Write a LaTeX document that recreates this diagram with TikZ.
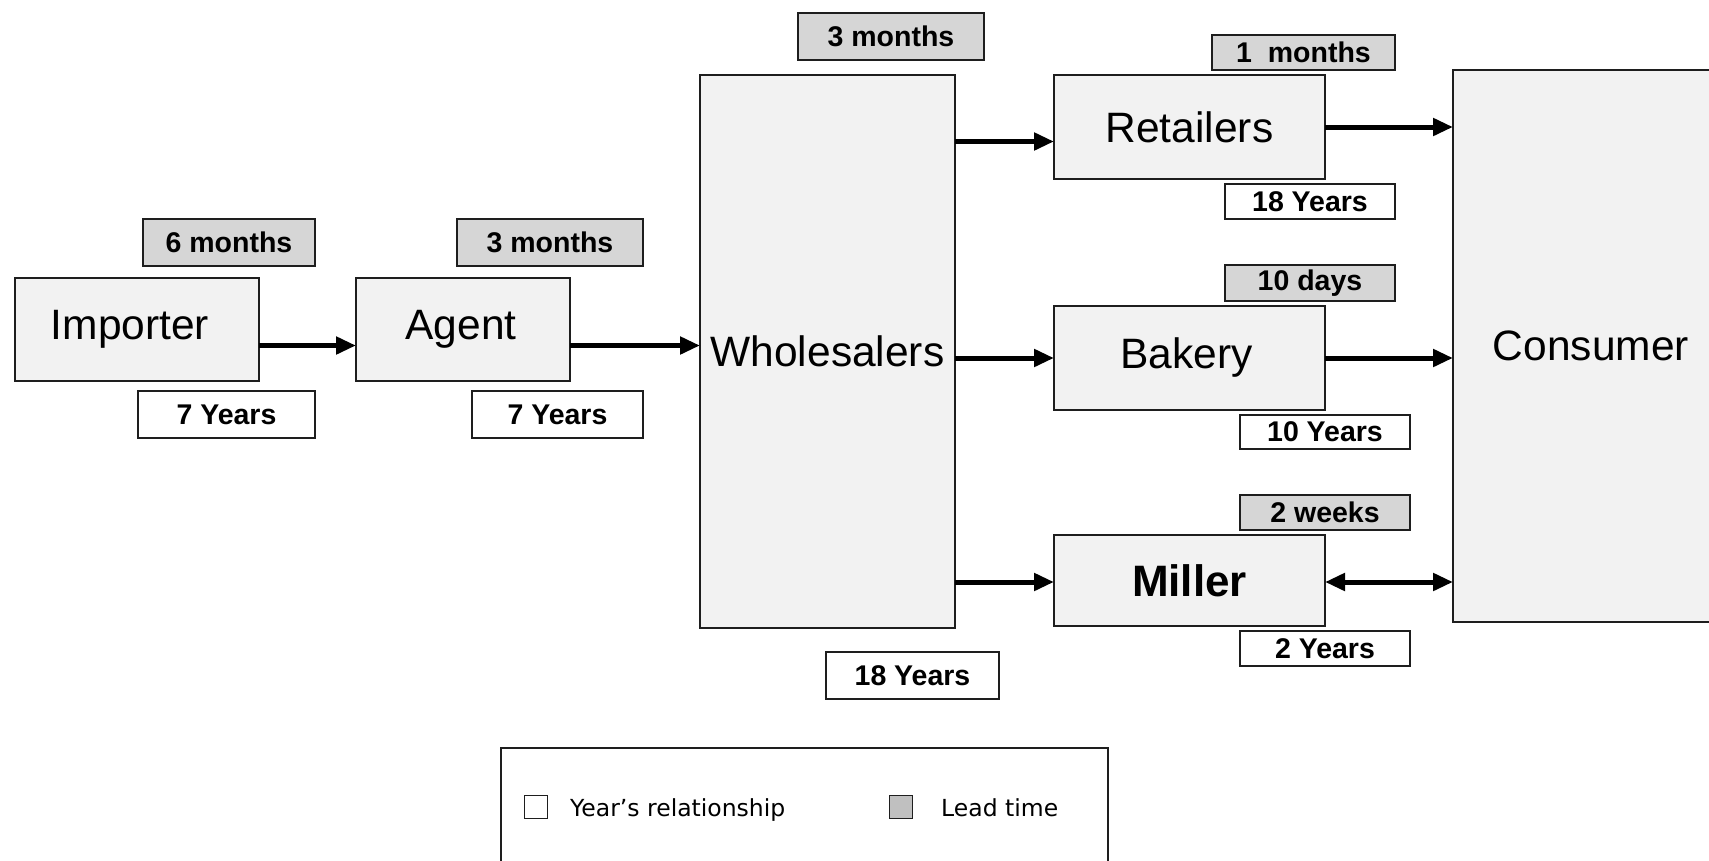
\documentclass[tikz,border=0pt]{standalone}
\usepackage{fontspec}
\setmainfont{Liberation Sans}
\newfontfamily\keyfont{DejaVu Sans}
\usetikzlibrary{arrows.meta}
\definecolor{stagefill}{HTML}{F2F2F2}
\definecolor{leadfill}{HTML}{D6D6D6}
\definecolor{keyfill}{HTML}{C0C0C0}
\definecolor{edge}{HTML}{1E1E1E}

\begin{document}
\begin{tikzpicture}[x=1pt,y=-1pt,
  stage/.style={draw=edge, line width=2pt, fill=stagefill, inner sep=0pt, outer sep=0pt,
    font=\fontsize{42.5}{48}\selectfont},
  tag/.style={draw=edge, line width=2pt, inner sep=0pt, outer sep=0pt,
    font=\bfseries\fontsize{28.5}{30}\selectfont},
  years/.style={tag, fill=white},
  lead/.style={tag, fill=leadfill},
  flow/.style={line width=5pt, -{Triangle[length=20pt,width=17pt]}},
  twoway/.style={line width=5pt, {Triangle[length=20pt,width=17pt]}-{Triangle[length=20pt,width=17pt]}},
  keysq/.style={draw=edge, line width=1.5pt, minimum size=23pt, inner sep=0pt, outer sep=0pt},
  keytext/.style={anchor=base west, inner sep=0pt, font=\keyfont\fontsize{23.5}{26}\selectfont}
]
\useasboundingbox (0,0) rectangle (1709,860);
\clip (0,0) rectangle (1709,860);

% chain stages
\node[stage, minimum width=244pt, minimum height=103pt] (imp) at (137,329.5) {\hspace*{-14pt}Importer};
\node[stage, minimum width=214pt, minimum height=103pt] (agent) at (463,329.5) {\hspace*{-4pt}Agent};
\node[stage, minimum width=255pt, minimum height=553pt] (whole) at (827.5,351.5) {Wholesalers};
\node[stage, minimum width=271pt, minimum height=104pt] (ret) at (1189.5,127) {Retailers};
\node[stage, minimum width=271pt, minimum height=104pt] (bak) at (1189.5,358) {\hspace*{-6pt}Bakery};
\node[stage, minimum width=271pt, minimum height=91pt, font=\bfseries\fontsize{44}{48}\selectfont] (mil) at (1189.5,580.5) {Miller};
\node[stage, minimum width=276pt, minimum height=552pt] (cons) at (1591,346) {Consumer};

% lead times
\node[lead, minimum width=172pt, minimum height=47pt] (ltimp) at (229,242.5) {6 months};
\node[lead, minimum width=186pt, minimum height=47pt] (ltagent) at (550,242.5) {3 months};
\node[lead, minimum width=186pt, minimum height=47pt] (ltwhole) at (891,36.5) {3 months};
\node[lead, minimum width=183pt, minimum height=35pt] (ltret) at (1303.5,52.5) {1\ \ months};
\node[lead, minimum width=170pt, minimum height=36pt] (ltbak) at (1310,283) {10 days};
\node[lead, minimum width=170pt, minimum height=35pt] (ltmil) at (1325,512.5) {2 weeks};

% length of relationship
\node[years, minimum width=177pt, minimum height=47pt] (yrimp) at (226.5,414.5) {7 Years};
\node[years, minimum width=171pt, minimum height=47pt] (yragent) at (557.5,414.5) {7 Years};
\node[years, minimum width=173pt, minimum height=47pt] (yrwhole) at (912.5,675.5) {18 Years};
\node[years, minimum width=170pt, minimum height=35pt] (yrret) at (1310,201.5) {18 Years};
\node[years, minimum width=170pt, minimum height=34pt] (yrbak) at (1325,432) {10 Years};
\node[years, minimum width=170pt, minimum height=35pt] (yrmil) at (1325,648.5) {2 Years};

% flows
\draw[flow] ([yshift=-16pt]imp.east) -- ([yshift=-16pt]agent.west);
\draw[flow] ([yshift=-16pt]agent.east) -- ([yshift=-16pt]agent.east -| whole.west);
\draw[flow] ([yshift=-14.5pt]ret.west -| whole.east) -- ([yshift=-14.5pt]ret.west);
\draw[flow] (bak.west -| whole.east) -- (bak.west);
\draw[flow] ([yshift=-1.5pt]mil.west -| whole.east) -- ([yshift=-1.5pt]mil.west);
\draw[flow] (ret.east) -- (ret.east -| cons.west);
\draw[flow] (bak.east) -- (bak.east -| cons.west);
\draw[twoway] ([yshift=-1.5pt]mil.east) -- ([yshift=-1.5pt]mil.east -| cons.west);

% key
\node[draw=edge, line width=2pt, fill=white, minimum width=607pt, minimum height=150pt, inner sep=0pt] (key) at (804,823) {};
\node[keysq, fill=white] (keyyears) at (536,807) {};
\node[keytext] (keyyearstext) at (570,816) {Year’s relationship};
\node[keysq, fill=keyfill] (keylead) at (901,807) {};
\node[keytext] (keyleadtext) at (941,816) {Lead time};
\end{tikzpicture}
\end{document}
